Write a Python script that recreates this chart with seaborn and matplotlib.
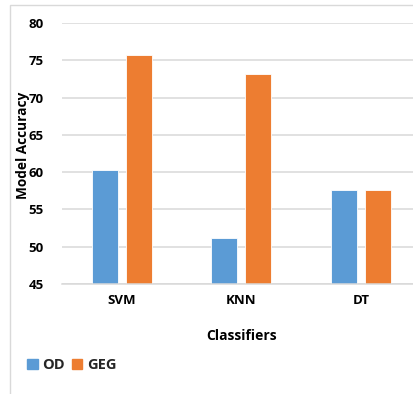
import matplotlib
matplotlib.use("Agg")
import matplotlib.pyplot as plt
import matplotlib.patches as mpatches
import seaborn as sns
import pandas as pd

classifiers = ["SVM", "KNN", "DT"]
od_values = [60.3, 51.2, 57.6]
geg_values = [75.7, 73.1, 57.6]
series_names = ["OD", "GEG"]
y_ticks = [45, 50, 55, 60, 65, 70, 75, 80]

df = pd.DataFrame({
    "Classifier": classifiers * 2,
    "Accuracy": od_values + geg_values,
    "Series": [series_names[0]] * 3 + [series_names[1]] * 3,
})

sns.set_theme(style="white")
plt.rcParams["font.family"] = ["Open Sans", "DejaVu Sans"]

fig = plt.figure(figsize=(4.14, 3.94), dpi=100)
ax = fig.add_axes([62 / 414, 1 - 284 / 394, (420.7 - 62) / 414, (284 - 23) / 394])

palette = {"OD": "#5B9BD5", "GEG": "#ED7D31"}
sns.barplot(data=df, x="Classifier", y="Accuracy", hue="Series", palette=palette,
            width=0.568, gap=0.23, edgecolor="white", linewidth=0.6,
            ax=ax, legend=False, saturation=1)

ax.set_ylim(45, 80)
ax.set_xlim(-0.5, 2.5)
ax.set_yticks(y_ticks)
ax.yaxis.grid(True, color="#D9D9D9", linewidth=1.1)
ax.set_axisbelow(True)
for s in ["top", "right", "left"]:
    ax.spines[s].set_visible(False)
ax.spines["bottom"].set_color("#D9D9D9")
ax.spines["bottom"].set_linewidth(1.1)
ax.tick_params(axis="both", length=0, labelsize=9.5, colors="black", pad=7)
ax.tick_params(axis="y", pad=13)
for lab in ax.get_xticklabels() + ax.get_yticklabels():
    lab.set_fontweight("bold")

ax.set_ylabel("Model Accuracy", fontsize=9.8, fontweight="bold", color="black")
ax.yaxis.set_label_coords((30 - 62) / 358.7, 0.53)
ax.set_xlabel("Classifiers", fontsize=10, fontweight="bold", color="black", labelpad=16)

handles = [mpatches.Patch(color=palette[n], label=n) for n in series_names]
fig.legend(handles=handles, loc="center left", bbox_to_anchor=(27 / 414, 1 - 365 / 394),
           ncol=2, frameon=False, handlelength=0.75, handleheight=0.75, handletextpad=0.3,
           columnspacing=0.45, borderpad=0, borderaxespad=0,
           prop={"weight": "bold", "size": 10.5})

border = mpatches.Rectangle((10 / 414, -0.1), 1.2, 1.1 - 5 / 394, transform=fig.transFigure,
                            fill=False, edgecolor="#D9D9D9", linewidth=1.0)
fig.patches.append(border)

fig.savefig("out.png", dpi=100)
